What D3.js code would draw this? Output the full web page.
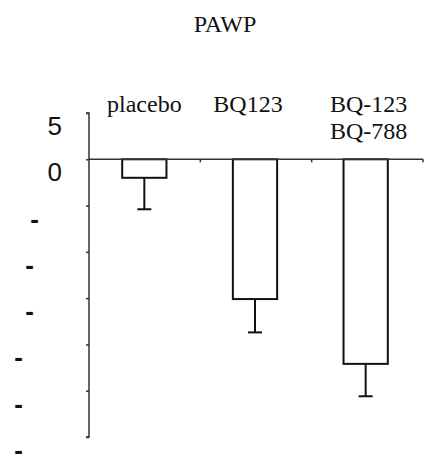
<!DOCTYPE html>
<html><head><meta charset="utf-8">
<script src="https://cdn.jsdelivr.net/npm/d3@7"></script>
<style>body{margin:0;background:#fff}</style>
</head><body>
<svg id="chart" width="428" height="454"></svg>
<script>
const categories = [["placebo"], ["BQ123"], ["BQ-123", "BQ-788"]];
const means = [-2.0, -15.1, -22.1];
const errors = [3.4, 3.6, 3.5];
const tickValues = [5, 0, -5, -10, -15, -20, -25, -30];
const tickLabels = ["5", "0", "-", "-", "-", "-", "-", "-"];
const title = "PAWP";

const svg = d3.select("#chart");
const y = d3.scaleLinear().domain([-30, 5]).range([437, 113]);
const x = d3.scaleBand().domain(d3.range(categories.length)).range([89, 421]).paddingInner(0.6).paddingOuter(0.3);
const axisX = 89;

// title
svg.append("text").attr("x", 225).attr("y", 32).attr("text-anchor", "middle")
  .attr("font-family", "Liberation Serif, serif").attr("font-size", 24).attr("fill", "#111").text(title);

// y axis
const yAxis = d3.axisLeft(y).tickValues(tickValues).tickSize(3).tickFormat("");
const gy = svg.append("g").attr("transform", `translate(${axisX},0)`).call(yAxis);
gy.select(".domain").attr("stroke", "#333").attr("stroke-width", 1.5).attr("d", `M-3,${y(5)}H0V${y(-30)}H-3`);
gy.selectAll(".tick line").attr("stroke", "#333").attr("stroke-width", 1.5);

// tick labels (offset below ticks as in reference)
const labelX = [62, 62, 39, 34, 34, 23, 23, 23];
svg.append("g").selectAll("text").data(tickValues).join("text")
  .attr("x", (d, i) => labelX[i]).attr("y", d => y(d) + 13)
  .attr("text-anchor", "end").attr("dominant-baseline", "central")
  .attr("font-family", "Liberation Sans, Arial, sans-serif").attr("font-size", 26)
  .attr("font-weight", (d, i) => i > 1 ? "bold" : "normal")
  .attr("fill", "#111").text((d, i) => tickLabels[i]);

// bars
const bars = svg.append("g");
bars.selectAll("rect").data(means).join("rect")
  .attr("x", (d, i) => x(i)).attr("width", x.bandwidth())
  .attr("y", y(0)).attr("height", d => y(d) - y(0))
  .attr("fill", "#fff").attr("stroke", "#111").attr("stroke-width", 2);

// error bars
const eb = svg.append("g").attr("stroke", "#111").attr("stroke-width", 2);
means.forEach((m, i) => {
  const cx = x(i) + x.bandwidth() / 2;
  eb.append("line").attr("x1", cx).attr("x2", cx).attr("y1", y(m)).attr("y2", y(m - errors[i]));
  eb.append("line").attr("x1", cx - 7).attr("x2", cx + 7).attr("y1", y(m - errors[i])).attr("y2", y(m - errors[i]));
});

// zero line
const step = x.step();
svg.append("line").attr("x1", axisX).attr("x2", 423).attr("y1", y(0)).attr("y2", y(0))
  .attr("stroke", "#333").attr("stroke-width", 1.5);
svg.append("g").selectAll("line").data([1, 2, 3]).join("line")
  .attr("x1", d => axisX + d * (423 - axisX) / 3).attr("x2", d => axisX + d * (423 - axisX) / 3)
  .attr("y1", y(0)).attr("y2", y(0) + 3).attr("stroke", "#333").attr("stroke-width", 1.5);

// category labels
const lab = svg.append("g").attr("font-family", "Liberation Serif, serif").attr("font-size", 24).attr("fill", "#111");
categories.forEach((lines, i) => {
  const cx = x(i) + x.bandwidth() / 2 + (i === 1 ? -7 : (i === 2 ? 3 : 0));
  lines.forEach((t, j) => {
    lab.append("text").attr("x", cx).attr("y", 112 + j * 27).attr("text-anchor", "middle").text(t);
  });
});
</script>
</body></html>
